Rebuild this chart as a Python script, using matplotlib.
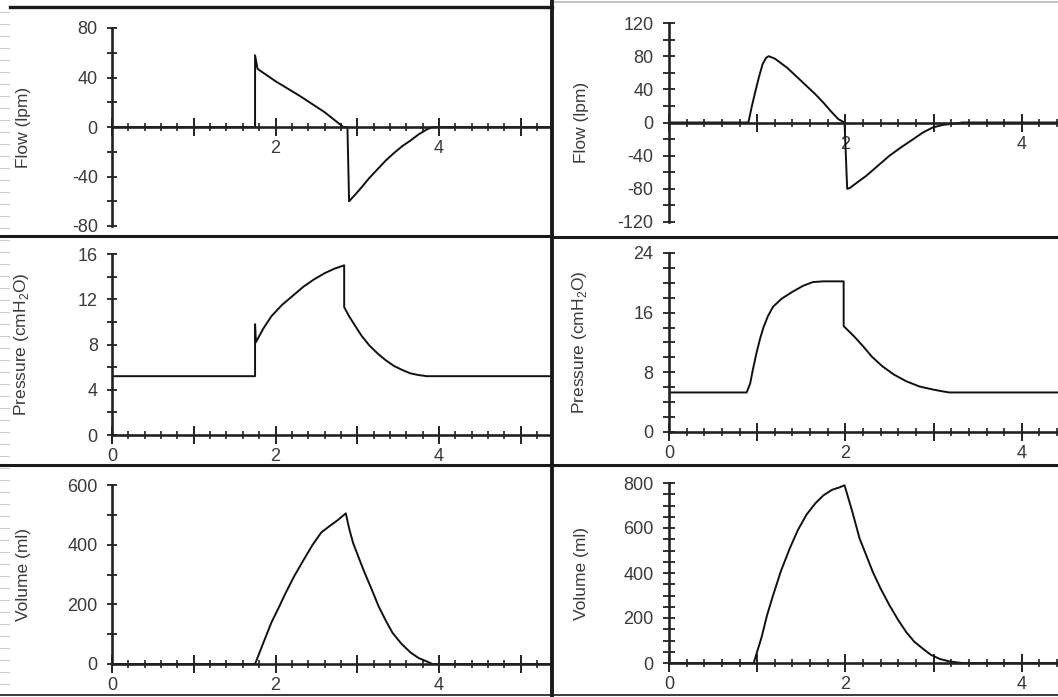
import matplotlib
matplotlib.use("Agg")
import matplotlib.pyplot as plt
from matplotlib.lines import Line2D
from matplotlib.ticker import MultipleLocator, FuncFormatter

plt.rcParams['font.family'] = ['Liberation Sans', 'DejaVu Sans']
plt.rcParams['axes.unicode_minus'] = False
plt.rcParams['mathtext.fontset'] = 'custom'
plt.rcParams['mathtext.rm'] = 'Liberation Sans'

W, H = 1058, 697

# ---- case A (left column) ----
t_flow_a = [0, 1.75, 1.75, 1.78, 2.0, 2.3, 2.6, 2.83, 2.88, 2.9, 2.97, 3.05, 3.15, 3.25, 3.35,
            3.45, 3.55, 3.65, 3.75, 3.85, 3.92, 5.5]
flow_a = [0, 0, 58, 47, 37, 25, 12, 0, 0, -60, -55, -49, -41, -34, -27,
          -21, -15.5, -11, -6, -2, 0, 0]

t_pres_a = [0, 1.75, 1.75, 1.76, 1.85, 1.95, 2.08, 2.21, 2.34, 2.47, 2.6, 2.72, 2.84, 2.84,
            2.9, 2.97, 3.05, 3.15, 3.25, 3.35, 3.45, 3.55, 3.65, 3.75, 3.85, 5.5]
pres_a = [5.2, 5.2, 9.8, 8.2, 9.4, 10.5, 11.5, 12.3, 13.1, 13.75, 14.3, 14.7, 15.0, 11.3,
          10.5, 9.7, 8.8, 7.9, 7.2, 6.6, 6.1, 5.75, 5.45, 5.3, 5.2, 5.2]

t_vol_a = [0, 1.75, 1.85, 1.95, 2.05, 2.12, 2.23, 2.34, 2.45, 2.56, 2.66, 2.76, 2.86, 2.9,
           2.95, 3.02, 3.09, 3.18, 3.26, 3.35, 3.43, 3.54, 3.65, 3.75, 3.83, 3.92, 5.5]
vol_a = [0, 0, 70, 139, 195, 236, 295, 347, 398, 441, 462, 482, 505, 455,
         405, 355, 306, 248, 194, 145, 105, 68, 39, 20, 11, 0, 0]

# ---- case B (right column) ----
t_flow_b = [0, 0.9, 0.94, 0.98, 1.02, 1.06, 1.1, 1.13, 1.2, 1.34, 1.45, 1.56, 1.66, 1.75,
            1.84, 1.92, 1.99, 2.02, 2.05, 2.15, 2.24, 2.37, 2.5, 2.63, 2.77, 2.88, 2.99,
            3.1, 3.18, 3.33, 4.5]
flow_b = [0, 0, 20, 38, 55, 70, 78, 80, 77, 66, 55, 44, 34, 24,
          13, 4, 0, -80, -79, -71, -64, -52, -40, -30, -20, -12, -6,
          -3, -2, 0, 0]

t_pres_b = [0, 0.88, 0.92, 0.95, 0.99, 1.03, 1.07, 1.12, 1.18, 1.28, 1.4, 1.52, 1.63, 1.75,
            1.98, 1.98, 2.1, 2.2, 2.3, 2.42, 2.55, 2.69, 2.84, 2.99, 3.1, 3.18, 4.5]
pres_b = [5.3, 5.3, 6.5, 8.3, 10.5, 12.4, 14.0, 15.5, 16.8, 17.9, 18.8, 19.6, 20.1, 20.2,
          20.2, 14.2, 12.8, 11.5, 10.1, 8.8, 7.7, 6.8, 6.1, 5.7, 5.45, 5.3, 5.3]

t_vol_b = [0, 0.96, 1.05, 1.11, 1.18, 1.27, 1.37, 1.46, 1.56, 1.66, 1.75, 1.85, 1.93, 1.99,
           2.08, 2.16, 2.24, 2.31, 2.4, 2.5, 2.6, 2.69, 2.78, 2.88, 2.97, 3.07, 3.18, 3.32, 4.5]
vol_b = [0, 0, 115, 210, 301, 410, 510, 590, 660, 710, 745, 770, 780, 790,
         670, 554, 475, 405, 330, 256, 190, 137, 95, 63, 36, 18, 7, 0, 0]

ylabels = ['Flow (lpm)', 'Pressure (cmH$_2$O)', 'Volume (ml)']

# panel specs: (left px, right px, xmax, top px, bottom px, ymin, ymax, major, minor, ytick size)
panels = [
    (112, 551, 5.37, 28, 226, -80, 80, 40, 20, 6.5, t_flow_a, flow_a, 0),
    (112, 551, 5.37, 254, 435, 0, 16, 4, 2, 6.5, t_pres_a, pres_a, 1),
    (112, 551, 5.37, 485, 664, 0, 600, 200, 100, 6.5, t_vol_a, vol_a, 2),
    (669, 1058, 4.41, 23, 222, -120, 120, 40, 20, 8.5, t_flow_b, flow_b, 0),
    (669, 1058, 4.41, 253, 432, 0, 24, 8, 2, 8.5, t_pres_b, pres_b, 1),
    (669, 1058, 4.41, 483, 663, 0, 800, 200, 50, 8.5, t_vol_b, vol_b, 2),
]

fig = plt.figure(figsize=(W / 100, H / 100), dpi=100)
txt = '#3a3a3a'

for (xl, xr, xmax, yt, yb, ymin, ymax, major, minor, ysz, tx, ty, row) in panels:
    ax = fig.add_axes([xl / W, 1 - yb / H, (xr - xl) / W, (yb - yt) / H])
    ax.set_facecolor('none')
    ax.plot(tx, ty, color='#111111', lw=1.4)
    ax.set_xlim(0, xmax)
    ax.set_ylim(ymin, ymax)

    for s in ('top', 'right'):
        ax.spines[s].set_visible(False)
    ax.spines['bottom'].set_position(('data', 0))
    for s in ('left', 'bottom'):
        ax.spines[s].set_linewidth(1.9)
        ax.spines[s].set_color('#222222')

    ax.xaxis.set_major_locator(MultipleLocator(1))
    ax.xaxis.set_minor_locator(MultipleLocator(0.2))
    skip_zero = row == 0
    ax.xaxis.set_major_formatter(FuncFormatter(
        lambda v, p, sz=skip_zero: '' if (round(v) % 2 or (sz and round(v) == 0)) else f'{int(round(v))}'))
    ax.yaxis.set_major_locator(MultipleLocator(major))
    ax.yaxis.set_minor_locator(MultipleLocator(minor))
    ax.yaxis.set_major_formatter(FuncFormatter(lambda v, p: f'{int(round(v))}'))

    ax.tick_params(axis='x', which='major', direction='inout', length=13, width=1.4,
                   color='#222222', labelsize=13, labelcolor=txt, pad=3)
    ax.tick_params(axis='x', which='minor', direction='inout', length=6, width=1.2, color='#222222')
    ax.tick_params(axis='y', which='both', direction='inout', length=ysz, width=1.3,
                   color='#222222', labelsize=13, labelcolor=txt, pad=7)

    ax.set_ylabel(ylabels[row], fontsize=12.5, color=txt)
    lx = (31 - xl) / (xr - xl) if xl < 300 else (589 - xl) / (xr - xl)
    ax.yaxis.set_label_coords(lx, 0.5)


def frame(x0, y0, x1, y1, lw, color='#1a1a1a'):
    fig.add_artist(Line2D([x0 / W, x1 / W], [1 - y0 / H, 1 - y1 / H],
                          transform=fig.transFigure, lw=lw, color=color))


# panel borders
frame(10, 7, 552, 7, 2.4)
frame(552, 2, W, 2, 1.2, '#bbbbbb')
frame(552, 0, 552, H, 2.8)
frame(0, 236, 552, 236, 2.2)
frame(552, 237, W, 237, 2.2)
frame(0, 465, 552, 465, 2.2)
frame(552, 465, W, 465, 2.2)
frame(0, 695, 552, 695, 1.2)
frame(552, 695, W, 695, 1.2)

# faint ruler marks on the left page edge
for k in range(1, 58):
    frame(0, 12 * k, 9, 12 * k, 0.8, '#cccccc')

fig.savefig('out.png', dpi=100)
